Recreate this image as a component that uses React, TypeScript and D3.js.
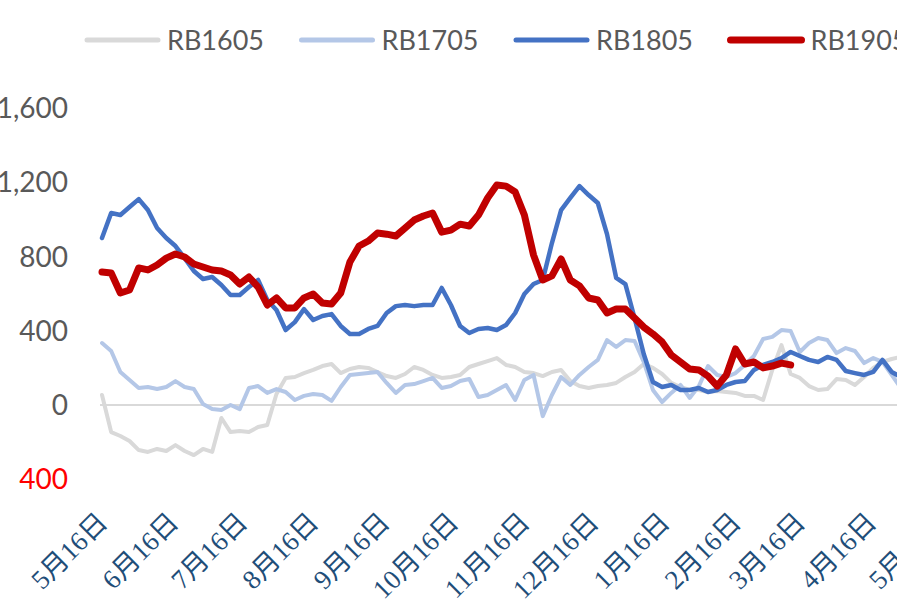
import React, { useEffect, useRef } from "react";
import * as d3 from "d3";

// spread of each contract, sampled every 4 days from 5月16日
const START = new Date(2017, 4, 16);
const STEP_DAYS = 4;

const seriesNames = ["RB1605", "RB1705", "RB1805", "RB1905"];

const RB1605 = [
  54, -146, -167, -194, -243, -253, -237, -248, -216, -248,
  -270, -237, -253, -70, -146, -140, -146, -119, -108, 59,
  146, 151, 172, 189, 210, 221, 172, 194, 205, 200,
  178, 156, 146, 167, 205, 189, 162, 146, 151, 162,
  205, 221, 237, 253, 216, 205, 178, 172, 156, 178,
  189, 129, 102, 92, 102, 108, 119, 151, 178, 221,
  200, 167, 119, 97, 81, 81, 70, 76, 70, 65,
  49, 49, 27, 189, 323, 167, 146, 102, 81, 86,
  140, 135, 108, 151, 200, 232, 248, 259,
];

const RB1705 = [
  334, 291, 178, 135, 92, 97, 86, 97, 129, 97,
  86, 5, -22, -27, 0, -22, 92, 102, 65, 86,
  70, 27, 49, 59, 54, 22, 97, 162, 167, 172,
  178, 119, 65, 108, 113, 129, 146, 92, 102, 129,
  140, 43, 54, 81, 108, 27, 135, 162, -60, 54,
  151, 108, 162, 205, 243, 350, 313, 350, 345, 232,
  81, 16, 65, 108, 38, 102, 210, 162, 151, 172,
  216, 264, 356, 367, 404, 399, 286, 334, 361, 350,
  280, 307, 291, 226, 253, 232, 162, 92,
];

const RB1805 = [
  900, 1035, 1024, 1067, 1110, 1051, 954, 900, 857, 792,
  722, 679, 690, 647, 593, 593, 636, 674, 566, 512,
  404, 447, 517, 458, 480, 490, 426, 383, 383, 410,
  426, 496, 533, 539, 533, 539, 539, 631, 539, 426,
  388, 410, 415, 404, 431, 496, 598, 652, 674, 873,
  1051, 1116, 1180, 1132, 1089, 921, 685, 652, 469, 275,
  124, 97, 108, 81, 81, 92, 70, 81, 108, 124,
  129, 189, 216, 232, 253, 286, 264, 243, 232, 259,
  243, 183, 172, 162, 178, 243, 178, 151,
];

const RB1905 = [
  717, 712, 604, 620, 739, 728, 755, 792, 814, 798,
  760, 744, 728, 722, 701, 652, 690, 636, 539, 577,
  523, 523, 577, 598, 550, 544, 604, 771, 857, 884,
  927, 921, 911, 954, 997, 1019, 1035, 932, 943, 975,
  965, 1024, 1116, 1186, 1180, 1148, 1024, 808, 674, 696,
  787, 674, 642, 577, 566, 496, 517, 517, 469, 420,
  383, 340, 270, 232, 194, 189, 156, 102, 162, 302,
  221, 232, 200, 210, 226, 216,
];

const tickLabels = [
  "5月16日", "6月16日", "7月16日", "8月16日", "9月16日", "10月16日",
  "11月16日", "12月16日", "1月16日", "2月16日", "3月16日", "4月16日", "5月16日",
];

const yTicks = [-400, 0, 400, 800, 1200, 1600];

const colors = ["#D9D9D9", "#B4C7E7", "#4472C4", "#C00000"];
const widths = [4, 4, 4.5, 7];

const W = 897;
const H = 607;

export default function App() {
  const ref = useRef<SVGSVGElement>(null);

  useEffect(() => {
    const svg = d3.select(ref.current);
    svg.selectAll("*").remove();

    const x = d3
      .scaleTime()
      .domain([START, new Date(2018, 3, 16)])
      .range([102, 871]);
    const y = d3.scaleLinear().domain([-400, 1600]).range([479.2, 108.2]);

    const dateAt = (i: number) => d3.timeDay.offset(START, i * STEP_DAYS);

    // zero line
    svg
      .append("line")
      .attr("x1", 100)
      .attr("x2", W + 20)
      .attr("y1", y(0))
      .attr("y2", y(0))
      .attr("stroke", "#D9D9D9")
      .attr("stroke-width", 2);

    // y labels (negatives in red, no sign)
    const fmt = d3.format(",");
    svg
      .selectAll("text.ylab")
      .data(yTicks)
      .enter()
      .append("text")
      .classed("ylab", true)
      .attr("x", 68)
      .attr("y", (d) => y(d))
      .attr("dy", "0.36em")
      .attr("text-anchor", "end")
      .attr("font-family", "Lato, 'Noto Sans', sans-serif")
      .attr("font-size", 28)
      .attr("fill", (d) => (d < 0 ? "#FF0000" : "#595959"))
      .text((d) => fmt(Math.abs(d)));

    // x labels
    const tickDates = tickLabels.map((_, i) => d3.timeMonth.offset(START, i));
    svg
      .selectAll("text.xlab")
      .data(tickDates)
      .enter()
      .append("text")
      .classed("xlab", true)
      .attr("transform", (d) => `translate(${x(d) + 7},524) rotate(-45)`)
      .attr("text-anchor", "end")
      .attr("font-family", "'Liberation Serif', 'Noto Sans CJK SC', serif")
      .attr("font-size", 27)
      .attr("fill", "#1F4E79")
      .text((_, i) => tickLabels[i]);

    // lines
    const line = d3
      .line<number>()
      .x((_, i) => x(dateAt(i)))
      .y((d) => y(d));

    [RB1605, RB1705, RB1805, RB1905].forEach((s, k) => {
      svg
        .append("path")
        .attr("d", line(s))
        .attr("fill", "none")
        .attr("stroke", colors[k])
        .attr("stroke-width", widths[k])
        .attr("stroke-linejoin", "round")
        .attr("stroke-linecap", "round");
    });

    // legend
    const leg = svg
      .selectAll("g.leg")
      .data(seriesNames)
      .enter()
      .append("g")
      .classed("leg", true)
      .attr("transform", (_, i) => `translate(${87 + i * 214.5},40)`);
    leg
      .append("line")
      .attr("x1", 0)
      .attr("x2", 71)
      .attr("stroke", (_, i) => colors[i])
      .attr("stroke-width", (_, i) => (i === 3 ? 7 : 5))
      .attr("stroke-linecap", "round");
    leg
      .append("text")
      .attr("x", 80)
      .attr("dy", "0.36em")
      .attr("font-family", "Lato, 'Noto Sans', sans-serif")
      .attr("font-size", 27)
      .attr("fill", "#595959")
      .text((d) => d);
  }, []);

  return (
    <div style={{ position: "absolute", left: 0, top: 0, width: W, height: H, overflow: "hidden" }}>
      <svg ref={ref} width={W} height={H} style={{ display: "block", background: "#fff" }} />
    </div>
  );
}
